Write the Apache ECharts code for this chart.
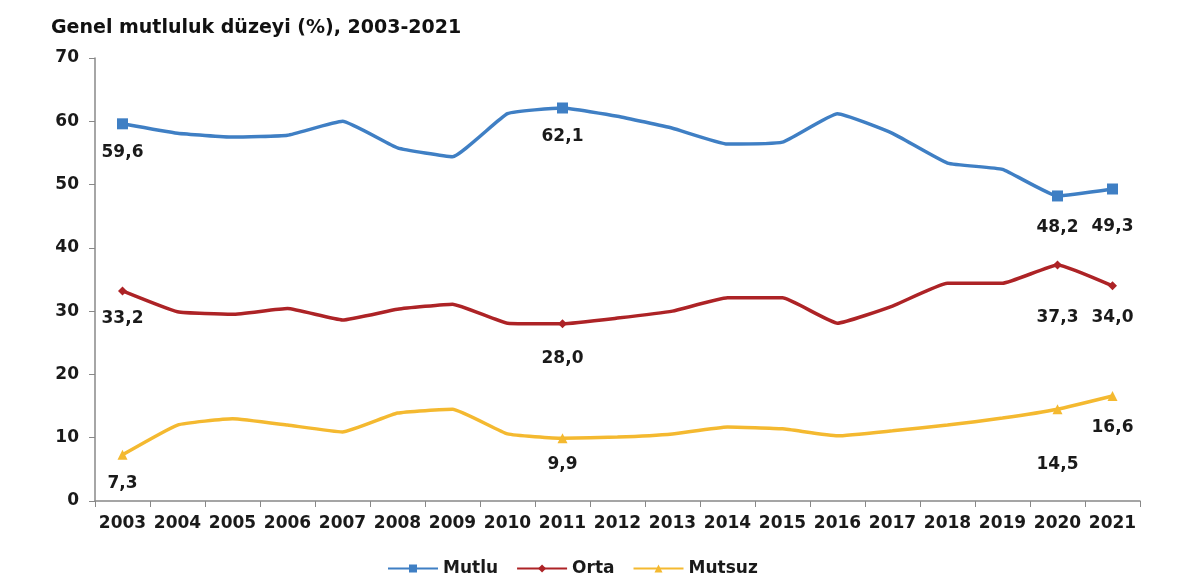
<!DOCTYPE html>
<html>
<head>
<meta charset="utf-8">
<script src="https://cdn.jsdelivr.net/npm/echarts@6/dist/echarts.min.js"></script>
<style>
  html, body { margin: 0; padding: 0; background: #fff; }
  #chart { width: 1200px; height: 588px; }
</style>
</head>
<body>
<div id="chart"></div>
<script>
// veriler
const years = ['2003','2004','2005','2006','2007','2008','2009','2010','2011','2012','2013','2014','2015','2016','2017','2018','2019','2020','2021'];
const mutlu  = [59.6, 58.1, 57.5, 57.8, 60.0, 55.8, 54.4, 61.2, 62.1, 60.8, 58.9, 56.4, 56.7, 61.2, 58.1, 53.4, 52.4, 48.2, 49.3];
const orta   = [33.2, 29.9, 29.5, 30.4, 28.6, 30.3, 31.1, 28.1, 28.0, 28.9, 30.0, 32.1, 32.1, 28.1, 30.8, 34.4, 34.4, 37.3, 34.0];
const mutsuz = [7.3, 12.0, 13.0, 12.0, 10.9, 13.9, 14.5, 10.6, 9.9, 10.1, 10.6, 11.7, 11.4, 10.3, 11.1, 12.0, 13.1, 14.5, 16.6];

// işaretli yıllar ve etiket kaymaları (piksel)
const marked = [0, 8, 17, 18];
const labelShift = {
    Mutlu:  { 0: 29, 8: 29, 17: 32, 18: 38 },
    Orta:   { 0: 28, 8: 35, 17: 53, 18: 32 },
    Mutsuz: { 0: 29, 8: 26, 17: 55, 18: 32 }
};

const font = 'DejaVu Sans, Arial, sans-serif';

function buildData(name, values, size) {
    return values.map((v, i) => {
        if (marked.indexOf(i) < 0) return { value: v, symbolSize: 0 };
        return {
            value: v,
            symbolSize: size,
            label: {
                show: true,
                position: 'inside',
                offset: [0, labelShift[name][i]],
                formatter: v.toFixed(1).replace('.', ','),
                color: '#1a1a1a',
                fontSize: 17,
                fontWeight: 'bold',
                fontFamily: font
            }
        };
    });
}

function makeSeries(name, values, color, symbol, size) {
    return {
        name: name,
        type: 'line',
        data: buildData(name, values, size),
        symbol: symbol,
        symbolSize: size,
        showSymbol: true,
        showAllSymbol: true,
        smooth: 0.12,
        lineStyle: { color: color, width: 3.5 },
        itemStyle: { color: color },
        z: 3
    };
}

const myChart = echarts.init(document.getElementById('chart'));
const option = {
    animation: false,
    title: {
        text: 'Genel mutluluk düzeyi (%), 2003-2021',
        left: 46,
        top: 14,
        textStyle: { fontSize: 19, fontWeight: 'bold', color: '#111', fontFamily: font }
    },
    legend: {
        data: ['Mutlu', 'Orta', 'Mutsuz'],
        top: 555,
        left: 382,
        itemWidth: 50,
        itemHeight: 10,
        itemGap: 18,
        textStyle: { fontSize: 17, fontWeight: 'bold', color: '#1a1a1a', fontFamily: font }
    },
    grid: { left: 95, right: 60, top: 58, bottom: 87 },
    xAxis: {
        type: 'category',
        data: years,
        boundaryGap: true,
        axisLine: { lineStyle: { color: '#888', width: 1.5 } },
        axisTick: { show: true, length: 6, alignWithLabel: false, lineStyle: { color: '#888' } },
        axisLabel: { color: '#1a1a1a', fontSize: 17, fontWeight: 'bold', fontFamily: font, margin: 14, interval: 0 }
    },
    yAxis: {
        type: 'value',
        min: 0,
        max: 70,
        interval: 10,
        axisLine: { show: true, lineStyle: { color: '#888', width: 1.5 } },
        axisTick: { show: true, length: 6, lineStyle: { color: '#888' } },
        splitLine: { show: false },
        axisLabel: { color: '#1a1a1a', fontSize: 17, fontWeight: 'bold', fontFamily: font, margin: 16 }
    },
    series: [
        makeSeries('Mutlu', mutlu, '#3f7fc4', 'rect', 11),
        makeSeries('Orta', orta, '#ad2326', 'diamond', 9),
        makeSeries('Mutsuz', mutsuz, '#f4b930', 'triangle', 10)
    ]
};
myChart.setOption(option);
</script>
</body>
</html>
